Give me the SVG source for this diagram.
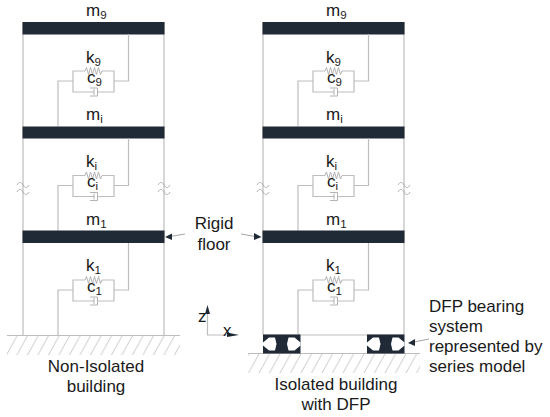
<svg xmlns="http://www.w3.org/2000/svg" xmlns:xlink="http://www.w3.org/1999/xlink" width="550" height="417" viewBox="0 0 550 417">
<style>
.l{fill:none;stroke:#bdbdbd;stroke-width:1.2}
.thin{fill:none;stroke:#ababab;stroke-width:.9}
.a{fill:none;stroke:#9a9a9a;stroke-width:.9}
.h{fill:none;stroke:#c2c2c2;stroke-width:.9}
.s{fill:#1f2a36}
text{font-family:"Liberation Sans",Arial,sans-serif;font-size:17px;fill:#1a1a1a}
.m{text-anchor:middle}
.sub{font-size:11.500px}
</style>
<defs>
<g id="unit">
<path class="l" d="M58 0V-45H73M128.500 -92V-45H114M73 -45V-55H85M102 -55H114V-45M73 -45V-34H92M97 -34H114V-45"/>
<path class="thin" d="M85 -55l1.500-3.500 2 7 2-7 2 7 2-7 2 7 2-7 2 7 1.500-3.500"/>
<path class="thin" d="M90 -38H97.500V-30H90M92 -34H94M94 -37V-31"/>
</g>
<pattern id="hatch" width="10.500" height="19" patternUnits="userSpaceOnUse" patternTransform="translate(7 335)">
<path class="h" d="M0 19L10.500 0M-10.500 19L0 0M10.500 19L21 0"/>
</pattern>
<g id="brg">
<rect class="s" width="37.500" height="19"/>
<path fill="#fff" d="M0 8L6 3H12L13.500 9.500 12 16H6L0 11ZM37.500 8L31.500 3H25.500L24 9.500 25.500 16H31.500L37.500 11Z"/>
</g>
<g id="wave"><path class="thin" d="M-6 0c2-3.500 4-3.500 6 0s4 3.500 6 0M-6 7c2-3.500 4-3.500 6 0s4 3.500 6 0"/></g>
</defs>

<g id="connectors">
<path class="l" d="M23 22V335M164 22V335M263 22V335M404 22V335M7 335.500H180M248 353.500H420"/>
<use href="#wave" x="23" y="185"/><use href="#wave" x="164" y="185"/>
<use href="#wave" x="263" y="185"/><use href="#wave" x="404" y="185"/>
<path class="a" d="M185 234L170 236.500M241 234L255 236.500M429 339L414 342"/>
<path fill="#1f2a36" d="M165 237L172 233.500V240ZM261.500 237L254 233V240ZM408 343L415 339V346Z"/>
<path class="l" d="M207.500 312V335H230"/>
<path fill="#1f2a36" d="M207.500 305L205 314H210ZM239 335L227 332.500V337Z"/>
</g>

<g id="building-left">
<g id="left-m9"><rect class="s" x="22.500" y="22" width="142" height="12.500"/><text x="86" y="16">m<tspan class="sub" dy="3">9</tspan></text></g>
<g id="left-k9"><use href="#unit" y="126"/><text x="86" y="63">k<tspan class="sub" dy="3">9</tspan></text><text x="87" y="83">c<tspan class="sub" dy="3">9</tspan></text></g>
<g id="left-mi"><rect class="s" x="22.500" y="126.500" width="142" height="12"/><text x="86" y="120">m<tspan class="sub" dy="3">i</tspan></text></g>
<g id="left-ki"><use href="#unit" y="230.500"/><text x="86" y="167">k<tspan class="sub" dy="3">i</tspan></text><text x="87" y="187">c<tspan class="sub" dy="3">i</tspan></text></g>
<g id="left-m1"><rect class="s" x="22.500" y="230.500" width="142" height="12.500"/><text x="86" y="225">m<tspan class="sub" dy="3">1</tspan></text></g>
<g id="left-k1"><use href="#unit" y="335"/><text x="86" y="271">k<tspan class="sub" dy="3">1</tspan></text><text x="87" y="292">c<tspan class="sub" dy="3">1</tspan></text></g>
<g id="left-ground"><rect x="7" y="336" width="173" height="19" fill="url(#hatch)"/></g>
<text class="m" x="96" y="372">Non-Isolated</text>
<text class="m" x="96" y="392">building</text>
</g>

<g id="building-right">
<g transform="translate(240 0)">
<g id="right-m9"><rect class="s" x="22.500" y="22" width="142" height="12.500"/><text x="86" y="16">m<tspan class="sub" dy="3">9</tspan></text></g>
<g id="right-k9"><use href="#unit" y="126"/><text x="86" y="63">k<tspan class="sub" dy="3">9</tspan></text><text x="87" y="83">c<tspan class="sub" dy="3">9</tspan></text></g>
<g id="right-mi"><rect class="s" x="22.500" y="126.500" width="142" height="12"/><text x="86" y="120">m<tspan class="sub" dy="3">i</tspan></text></g>
<g id="right-ki"><use href="#unit" y="230.500"/><text x="86" y="167">k<tspan class="sub" dy="3">i</tspan></text><text x="87" y="187">c<tspan class="sub" dy="3">i</tspan></text></g>
<g id="right-m1"><rect class="s" x="22.500" y="230.500" width="142" height="12.500"/><text x="86" y="225">m<tspan class="sub" dy="3">1</tspan></text></g>
<g id="right-k1"><use href="#unit" y="335"/><text x="86" y="271">k<tspan class="sub" dy="3">1</tspan></text><text x="87" y="292">c<tspan class="sub" dy="3">1</tspan></text></g>
</g>
<path class="l" d="M263 335H404"/>
<g id="bearing-1"><use href="#brg" x="263" y="334.500"/></g>
<g id="bearing-2"><use href="#brg" x="367" y="334.500"/></g>
<g id="right-ground"><rect x="248" y="354" width="172" height="19" fill="url(#hatch)"/></g>
<text class="m" x="336" y="390">Isolated building</text>
<text class="m" x="336" y="410">with DFP</text>
</g>

<g id="rigid-floor-label">
<text class="m" x="214" y="229">Rigid</text>
<text class="m" x="214" y="250">floor</text>
</g>
<g id="dfp-label">
<text x="429" y="312">DFP bearing</text>
<text x="429" y="332">system</text>
<text x="429" y="352">represented by</text>
<text x="429" y="372">series model</text>
</g>
<g id="axes">
<text x="198" y="322">z</text>
<text x="223" y="336">x</text>
</g>
</svg>
